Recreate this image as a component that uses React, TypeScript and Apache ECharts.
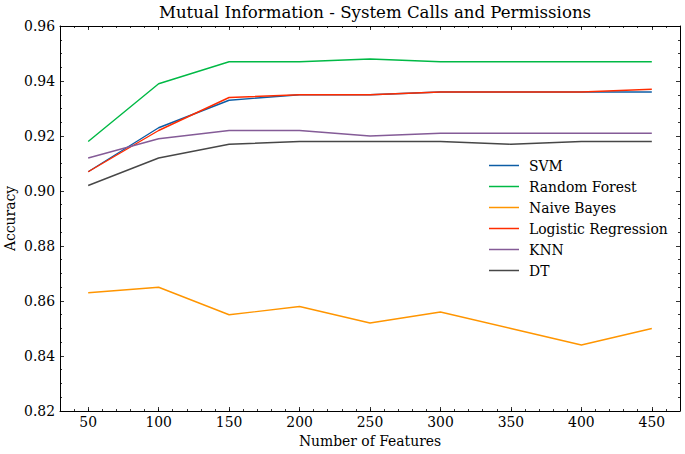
import React, { useEffect, useRef } from "react";
import * as echarts from "echarts";

const features = [50, 100, 150, 200, 250, 300, 350, 400, 450];
const svm = [0.907, 0.923, 0.933, 0.935, 0.935, 0.936, 0.936, 0.936, 0.936];
const randomForest = [0.918, 0.939, 0.947, 0.947, 0.948, 0.947, 0.947, 0.947, 0.947];
const naiveBayes = [0.863, 0.865, 0.855, 0.858, 0.852, 0.856, 0.85, 0.844, 0.85];
const logisticRegression = [0.907, 0.922, 0.934, 0.935, 0.935, 0.936, 0.936, 0.936, 0.937];
const knn = [0.912, 0.919, 0.922, 0.922, 0.92, 0.921, 0.921, 0.921, 0.921];
const dt = [0.902, 0.912, 0.917, 0.918, 0.918, 0.918, 0.917, 0.918, 0.918];
const xTicks = [50, 100, 150, 200, 250, 300, 350, 400, 450];

const seriesDefs = [
  { name: "SVM", data: svm, color: "#0C5DA5" },
  { name: "Random Forest", data: randomForest, color: "#00B945" },
  { name: "Naive Bayes", data: naiveBayes, color: "#FF9500" },
  { name: "Logistic Regression", data: logisticRegression, color: "#FF2C00" },
  { name: "KNN", data: knn, color: "#845B97" },
  { name: "DT", data: dt, color: "#474747" },
];

const FONT = "DejaVu Serif";
const FS = 13.9;

export default function App() {
  const ref = useRef<HTMLDivElement>(null);
  useEffect(() => {
    if (!ref.current) return;
    const chart = echarts.init(ref.current, undefined, { renderer: "svg" });
    const xMin = 30;
    const xMax = 470;
    const baseX = {
      type: "value",
      min: xMin,
      max: xMax,
      splitLine: { show: false },
      axisLine: { show: true, onZero: false, lineStyle: { color: "#000", width: 1 } },
    };
    const majorX = (pos: string, labels: boolean) => ({
      ...baseX,
      position: pos,
      axisTick: { show: true, inside: true, length: 4, customValues: xTicks, lineStyle: { color: "#000", width: 0.8 } },
      axisLabel: labels
        ? { show: true, customValues: xTicks, margin: 4, color: "#000", fontFamily: FONT, fontSize: FS }
        : { show: false },
    });
    const minorX = (pos: string) => ({
      ...baseX,
      position: pos,
      interval: 10,
      axisLine: { show: false },
      axisTick: { show: true, inside: true, length: 2, lineStyle: { color: "#000", width: 0.8 } },
      axisLabel: { show: false },
    });
    const yAx = (pos: string, labels: boolean) => ({
      type: "value",
      position: pos,
      min: 0.82,
      max: 0.96,
      interval: 0.02,
      splitLine: { show: false },
      axisLine: { show: true, onZero: false, lineStyle: { color: "#000", width: 1 } },
      axisTick: { show: true, inside: true, length: 4, lineStyle: { color: "#000", width: 0.8 } },
      minorTick: { show: true, splitNumber: 4, length: 2, lineStyle: { color: "#000", width: 0.8 } },
      axisLabel: labels
        ? { show: true, margin: 5, color: "#000", fontFamily: FONT, fontSize: FS, formatter: (v: number) => v.toFixed(2) }
        : { show: false },
    });
    const xAxes: any[] = [majorX("bottom", true), minorX("bottom"), majorX("top", false), minorX("top")];
    xAxes[0].name = "Number of Features";
    xAxes[0].nameLocation = "middle";
    xAxes[0].nameGap = 23;
    xAxes[0].nameMoveOverlap = false;
    xAxes[0].nameTextStyle = { color: "#000", fontFamily: FONT, fontSize: FS };
    const yAxes: any[] = [yAx("left", true), yAx("right", false)];
    yAxes[0].name = "Accuracy";
    yAxes[0].nameLocation = "middle";
    yAxes[0].nameGap = 43;
    yAxes[0].nameMoveOverlap = false;
    yAxes[0].nameTextStyle = { color: "#000", fontFamily: FONT, fontSize: FS };

    chart.setOption({
      animation: false,
      backgroundColor: "#fff",
      title: {
        text: "Mutual Information - System Calls and Permissions",
        left: 370,
        textAlign: "center",
        top: -1,
        textStyle: { color: "#000", fontFamily: FONT, fontSize: 16.6, fontWeight: "normal" },
      },
      grid: { left: 60, right: 5, top: 26, bottom: 43, containLabel: false, outerBoundsMode: "none" },
      xAxis: xAxes,
      yAxis: yAxes,
      legend: {
        orient: "vertical",
        left: 489,
        top: 155,
        padding: 0,
        icon: "rect",
        itemWidth: 30,
        itemHeight: 1.5,
        itemGap: 0,
        textStyle: { color: "#000", fontFamily: FONT, fontSize: FS, lineHeight: 21, padding: [0, 0, 0, 5] },
        data: seriesDefs.map((s) => s.name),
      },
      series: seriesDefs.map((s) => ({
        name: s.name,
        type: "line",
        xAxisIndex: 0,
        yAxisIndex: 0,
        symbol: "none",
        data: features.map((f, i) => [f, s.data[i]]),
        lineStyle: { color: s.color, width: 1.4 },
        itemStyle: { color: s.color },
      })),
    });
    return () => chart.dispose();
  }, []);
  return (
    <div
      ref={ref}
      style={{ position: "absolute", left: 0, top: 0, width: 685, height: 454 }}
    />
  );
}
